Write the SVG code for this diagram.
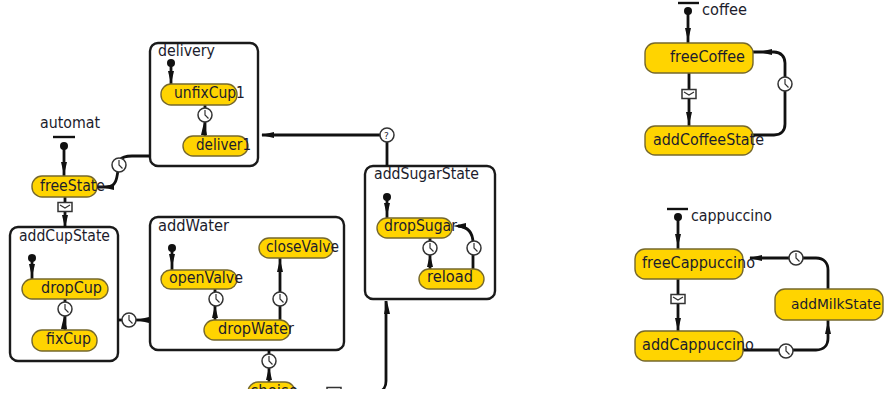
<svg xmlns="http://www.w3.org/2000/svg" xmlns:xlink="http://www.w3.org/1999/xlink" width="887" height="408" viewBox="0 0 887 408">
<style>
text{font-family:"DejaVu Sans","Liberation Sans",sans-serif;font-size:15.5px;fill:#1c1c2c}
.box{fill:#fff;stroke:#1a1a1a;stroke-width:2.4}
.st{fill:#ffd400;stroke:#76682c;stroke-width:1.4}
.ln{fill:none;stroke:#111;stroke-width:2.8}
.bar{stroke:#111;stroke-width:2.4}
.dot{fill:#111}
.head{fill:#111}
.ic{fill:#fff;stroke:#333;stroke-width:1.5}
.hand{fill:none;stroke:#333;stroke-width:1.2}
</style>
<defs>
<clipPath id="crop"><rect x="0" y="0" width="887" height="389"/></clipPath>
<g id="clock"><circle class="ic" r="7"/><path class="hand" d="M0-5V0L3.500 3.500"/></g>
<g id="msg"><rect class="ic" x="-7" y="-4.500" width="14" height="9"/><path class="hand" d="M-5-2L0 1L5-2"/></g>
<g id="q"><circle class="ic" r="7"/><text x="-3" y="3.500" style="font-size:9px">?</text></g>
<path id="au" class="head" d="M0 0L-3-13H3Z"/>
<path id="al" class="head" d="M0 0L13-3V3Z"/>
<path id="aup" class="head" d="M0 0L-3 13H3Z"/>
</defs>

<g id="boxes">
<g id="delivery"><rect class="box" x="150" y="43" width="108" height="123" rx="8"/><text x="158" y="56" textLength="57" lengthAdjust="spacingAndGlyphs">delivery</text></g>
<g id="addCupState"><rect class="box" x="10" y="227" width="108" height="134" rx="8"/><text x="19" y="241" textLength="91" lengthAdjust="spacingAndGlyphs">addCupState</text></g>
<g id="addWater"><rect class="box" x="150" y="217" width="194" height="133" rx="8"/><text x="158" y="231" textLength="71" lengthAdjust="spacingAndGlyphs">addWater</text></g>
<g id="addSugarState"><rect class="box" x="365" y="166" width="130" height="133" rx="8"/><text x="374" y="179" textLength="105" lengthAdjust="spacingAndGlyphs">addSugarState</text></g>
</g>

<g id="connectors">
<path class="ln" d="M64 146V176"/><use href="#au" x="64" y="175"/>
<path class="ln" d="M97 187H107C116 187 117 178 118 170M120 160C122 157 127 156 132 156H150"/><use href="#al" x="101" y="187"/>
<path class="ln" d="M65 197V227"/><use href="#au" x="65" y="228"/>
<path class="ln" d="M171 63V84M205 105V136"/><use href="#au" x="171" y="84"/><use href="#aup" x="204" y="122"/>
<path class="ln" d="M32 258V279M65 299V330"/><use href="#au" x="32" y="277"/><use href="#aup" x="64" y="316"/>
<path class="ln" d="M172 248V270M215 289V320M280 320V258"/><use href="#au" x="172" y="267"/><use href="#aup" x="215" y="305"/><use href="#aup" x="280" y="259"/>
<path class="ln" d="M150 320H118"/><use href="#al" x="136" y="320"/>
<path class="ln" d="M269 350V382"/><use href="#aup" x="269" y="367"/>
<path class="ln" d="M387 197V218M430 238V269M473 269V243C473 233 468 227 458 226"/><use href="#au" x="387" y="216"/><use href="#aup" x="430" y="254"/><use href="#al" x="453" y="226"/>
<path class="ln" d="M387 166V135H262"/><use href="#al" x="261" y="135"/>
<path class="ln" d="M386 301V381C386 388 382 392 376 392H296" clip-path="url(#crop)"/><use href="#aup" x="387" y="301"/>
<path class="ln" d="M688 11V43M689 73V126M753 52H774C781 52 785 57 785 63V124C785 131 781 135 774 135H753"/><use href="#au" x="688" y="41"/><use href="#au" x="689" y="125"/><use href="#al" x="759" y="52"/>
<path class="ln" d="M678 217V249M678 279V331M743 350H816C824 350 828 345 828 338V320M828 289V270C828 263 824 258 816 258H750"/><use href="#au" x="678" y="247"/><use href="#au" x="678" y="331"/><use href="#aup" x="828" y="321"/><use href="#al" x="749" y="258"/>
<use href="#clock" x="119" y="165"/><use href="#msg" x="65" y="207"/><use href="#clock" x="205" y="115"/><use href="#clock" x="65" y="309"/><use href="#clock" x="216" y="299"/><use href="#clock" x="280" y="299"/><use href="#clock" x="129" y="320"/><use href="#clock" x="269" y="361"/><use href="#clock" x="430" y="248"/><use href="#clock" x="474" y="248"/><use href="#q" x="387" y="135"/><use href="#clock" x="785" y="84"/><use href="#msg" x="689" y="94"/><use href="#msg" x="678" y="299"/><use href="#clock" x="786" y="351"/><use href="#clock" x="796" y="258"/>
<g clip-path="url(#crop)"><use href="#msg" x="334" y="392"/></g>
</g>

<g id="automat"><path class="bar" d="M53 137H75"/><circle class="dot" cx="64" cy="146" r="4"/><text x="40" y="128" textLength="60" lengthAdjust="spacingAndGlyphs">automat</text></g>
<g id="coffee"><path class="bar" d="M678 3H699"/><circle class="dot" cx="688" cy="11" r="4"/><text x="702" y="15" textLength="45" lengthAdjust="spacingAndGlyphs">coffee</text></g>
<g id="cappuccino"><path class="bar" d="M667 209H688"/><circle class="dot" cx="678" cy="217" r="4"/><text x="691" y="221" textLength="81" lengthAdjust="spacingAndGlyphs">cappuccino</text></g>
<g id="start-delivery"><circle class="dot" cx="171" cy="63" r="4"/></g>
<g id="start-addCup"><circle class="dot" cx="32" cy="258" r="4"/></g>
<g id="start-addWater"><circle class="dot" cx="172" cy="248" r="4"/></g>
<g id="start-addSugar"><circle class="dot" cx="387" cy="197" r="4"/></g>

<g id="freeState"><rect class="st" x="32" y="176" width="65" height="21" rx="10"/><text x="40" y="191" textLength="65" lengthAdjust="spacingAndGlyphs">freeState</text></g>
<g id="unfixCup1"><rect class="st" x="161" y="84" width="76" height="21" rx="10"/><text x="174" y="98" textLength="71" lengthAdjust="spacingAndGlyphs">unfixCup1</text></g>
<g id="deliver1"><rect class="st" x="183" y="136" width="65" height="20" rx="10"/><text x="196" y="150" textLength="55" lengthAdjust="spacingAndGlyphs">deliver1</text></g>
<g id="dropCup"><rect class="st" x="22" y="279" width="86" height="20" rx="10"/><text x="41" y="293" textLength="61" lengthAdjust="spacingAndGlyphs">dropCup</text></g>
<g id="fixCup"><rect class="st" x="32" y="330" width="65" height="21" rx="10"/><text x="46" y="344" textLength="45" lengthAdjust="spacingAndGlyphs">fixCup</text></g>
<g id="openValve"><rect class="st" x="161" y="270" width="76" height="19" rx="9.500"/><text x="169" y="283" textLength="74" lengthAdjust="spacingAndGlyphs">openValve</text></g>
<g id="dropWater"><rect class="st" x="204" y="320" width="86" height="20" rx="10"/><text x="218" y="334" textLength="76" lengthAdjust="spacingAndGlyphs">dropWater</text></g>
<g id="closeValve"><rect class="st" x="259" y="238" width="74" height="20" rx="10"/><text x="266" y="252" textLength="73" lengthAdjust="spacingAndGlyphs">closeValve</text></g>
<g id="choise" clip-path="url(#crop)"><rect class="st" x="248" y="382" width="47" height="20" rx="10"/><text x="250" y="396" textLength="48" lengthAdjust="spacingAndGlyphs">choise</text></g>
<g id="dropSugar"><rect class="st" x="377" y="218" width="75" height="20" rx="10"/><text x="384" y="231" textLength="73" lengthAdjust="spacingAndGlyphs">dropSugar</text></g>
<g id="reload"><rect class="st" x="419" y="269" width="65" height="20" rx="10"/><text x="427" y="282" textLength="46" lengthAdjust="spacingAndGlyphs">reload</text></g>
<g id="freeCoffee"><rect class="st" x="645" y="43" width="108" height="30" rx="10"/><text x="670" y="62" textLength="75" lengthAdjust="spacingAndGlyphs">freeCoffee</text></g>
<g id="addCoffeeState"><rect class="st" x="645" y="126" width="108" height="29" rx="10"/><text x="653" y="145" textLength="111" lengthAdjust="spacingAndGlyphs">addCoffeeState</text></g>
<g id="freeCappuccino"><rect class="st" x="635" y="249" width="108" height="30" rx="10"/><text x="642" y="268" textLength="113" lengthAdjust="spacingAndGlyphs">freeCappuccino</text></g>
<g id="addCappuccino"><rect class="st" x="635" y="331" width="108" height="30" rx="10"/><text x="642" y="350" textLength="112" lengthAdjust="spacingAndGlyphs">addCappuccino</text></g>
<g id="addMilkState"><rect class="st" x="775" y="289" width="108" height="31" rx="10"/><text x="791" y="309" style="font-size:14px" textLength="90" lengthAdjust="spacingAndGlyphs">addMilkState</text></g>
</svg>
